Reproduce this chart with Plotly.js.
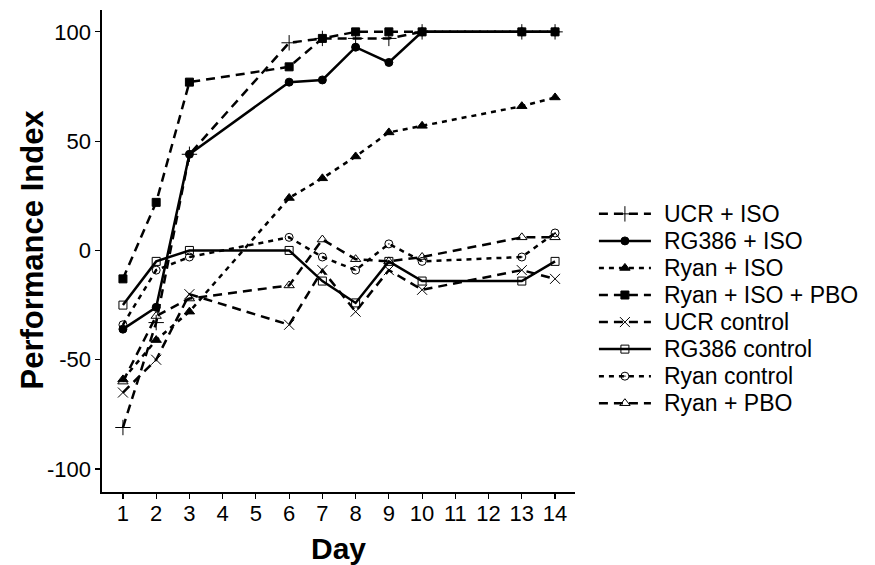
<!DOCTYPE html>
<html>
<head>
<meta charset="utf-8">
<script src="https://cdn.plot.ly/plotly-3.0.1.min.js"></script>
<style>html,body{margin:0;padding:0;background:#fff;}#chart{width:875px;height:565px;}</style>
</head>
<body>
<div id="chart"></div>
<script>
var days = [1, 2, 3, 6, 7, 8, 9, 10, 13, 14];
var seriesNames = ["UCR + ISO", "RG386 + ISO", "Ryan + ISO", "Ryan + ISO + PBO", "UCR control", "RG386 control", "Ryan control", "Ryan + PBO"];
var ucrIso      = [-81, -33, 44, 95, 97, 97, 97, 100, 100, 100];
var rg386Iso    = [-36, -26, 44, 77, 78, 93, 86, 100, 100, 100];
var ryanIso     = [-59, -41, -28, 24, 33, 43, 54, 57, 66, 70];
var ryanIsoPbo  = [-13, 22, 77, 84, 97, 100, 100, 100, 100, 100];
var ucrControl  = [-65, -50, -20, -34, -9, -28, -9, -18, -9, -13];
var rg386Control= [-25, -5, 0, 0, -14, -24, -5, -14, -14, -5];
var ryanControl = [-34, -9, -3, 6, -3, -9, 3, -5, -3, 8];
var ryanPbo     = [-60, -30, -22, -16, 5, -4, -5, -3, 6, 6];
var xTicks = [1,2,3,4,5,6,7,8,9,10,11,12,13,14];
var yTicks = [-100, -50, 0, 50, 100];

var values = [ucrIso, rg386Iso, ryanIso, ryanIsoPbo, ucrControl, rg386Control, ryanControl, ryanPbo];
var DASH = "9px,6px", DOT = "5px,5px";
var styles = [
  {dash: DASH, symbol: "cross-thin-open", size: 11},
  {dash: "solid", symbol: "circle", size: 8},
  {dash: DOT, symbol: "triangle-up", size: 9},
  {dash: DASH, symbol: "square", size: 8},
  {dash: DASH, symbol: "x-thin-open", size: 10},
  {dash: "solid", symbol: "square-open", size: 8},
  {dash: DOT, symbol: "circle-open-dot", size: 8},
  {dash: DASH, symbol: "triangle-up-open", size: 9}
];
var traces = seriesNames.map(function(n, i){
  return {
    x: days, y: values[i], name: n, type: "scatter", mode: "lines+markers",
    line: {color: "black", width: 2.5, dash: styles[i].dash},
    marker: {color: "black", symbol: styles[i].symbol, size: styles[i].size, line: {color: "black", width: 1}}
  };
});
var fnt = "Liberation Sans, Arial, sans-serif";
var layout = {
  width: 875, height: 565,
  margin: {l: 102, r: 300, t: 10, b: 73},
  paper_bgcolor: "white", plot_bgcolor: "white",
  font: {family: fnt, color: "black", size: 18},
  showlegend: true,
  legend: {x: 1.04, y: 0.38, xanchor: "left", yanchor: "middle", font: {size: 18.5, family: fnt}, tracegroupgap: 0, itemwidth: 52, traceorder: "normal", bgcolor: "rgba(0,0,0,0)"},
  xaxis: {
    range: [0.37, 14.6], tickvals: xTicks, ticktext: xTicks.map(String),
    showgrid: false, zeroline: false, showline: true, linecolor: "black", linewidth: 1.6,
    ticks: "outside", ticklen: 5, tickcolor: "black", tickwidth: 1.2,
    tickfont: {size: 22, family: fnt},
    title: {text: "<b>Day</b>", font: {size: 30, family: fnt}, standoff: 10},
    automargin: false
  },
  yaxis: {
    range: [-110.5, 110], tickvals: yTicks, ticktext: yTicks.map(String),
    showgrid: false, zeroline: false, showline: true, linecolor: "black", linewidth: 1.6,
    ticks: "outside", ticklen: 5, tickcolor: "black", tickwidth: 1.2,
    tickfont: {size: 22, family: fnt},
    automargin: false
  },
  annotations: [{
    text: "<b>Performance Index</b>", xref: "paper", yref: "paper",
    x: -0.146, y: 0.503, xanchor: "center", yanchor: "middle", textangle: -90,
    showarrow: false, font: {size: 31, family: fnt, color: "black"}
  }]
};
Plotly.newPlot("chart", traces, layout, {displayModeBar: false, staticPlot: true}).then(function(gd){
  gd.querySelectorAll(".legend [clip-path]").forEach(function(el){ el.removeAttribute("clip-path"); });
  gd.querySelectorAll(".legend .legendtext").forEach(function(t){
    t.style.fontSize = "23px";
    var x = parseFloat(t.getAttribute("x")) || 0;
    t.setAttribute("x", x + 8);
    var y = parseFloat(t.getAttribute("y")) || 0;
    t.setAttribute("y", y + 1);
  });
  gd.querySelectorAll(".xtick text").forEach(function(t){
    var y = parseFloat(t.getAttribute("y")) || 0;
    t.setAttribute("y", y - 4);
  });
});
</script>
</body>
</html>
